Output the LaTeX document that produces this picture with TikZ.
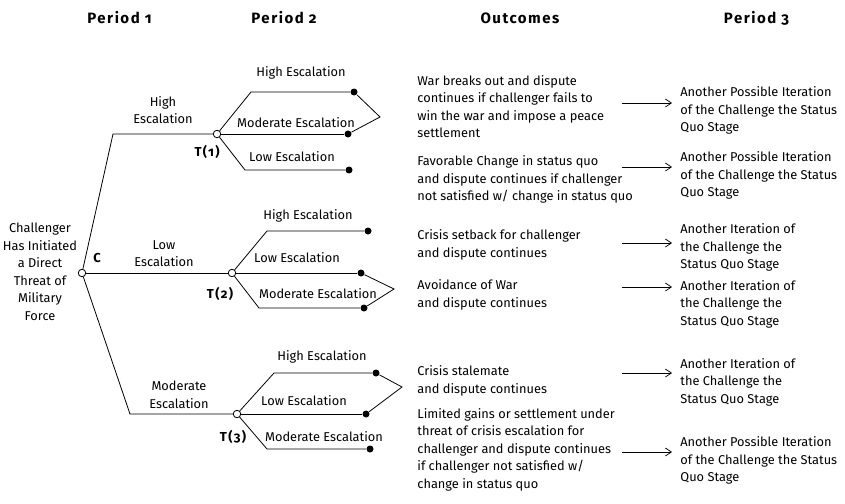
\documentclass[tikz,border=0pt]{standalone}
\usepackage{fontspec}
\setmainfont{Fira Sans}[Numbers=OldStyle]
\newfontfamily\headfont{Fira Sans}[Numbers=OldStyle, LetterSpace=10]
\usetikzlibrary{arrows.meta}
\begin{document}
\begin{tikzpicture}[x=1pt, y=-1pt, line width=0.8pt,
    font=\fontsize{12.8}{17.5}\selectfont,
    open/.style={circle, draw, fill=white, inner sep=0pt, minimum size=7.5pt},
    dot/.style={circle, fill, inner sep=0pt, minimum size=7pt},
    lbl/.style={inner sep=0pt},
    tag/.style={inner sep=0pt, font=\headfont\bfseries\fontsize{13}{15}\selectfont},
    txt/.style={inner sep=0pt, align=left, anchor=west},
    hd/.style={inner sep=0pt, font=\headfont\bfseries\fontsize{15}{17}\selectfont},
    arr/.style={-{Straight Barb[length=6pt, width=8pt]}, line width=0.7pt}]
  \useasboundingbox (0,0) rectangle (845,503);

  % headings
  \node[hd] (p1) at (119.5,18) {Period 1};
  \node[hd] (p2) at (284,18) {Period 2};
  \node[hd] (oc) at (520,18) {Outcomes};
  \node[hd] (p3) at (756.5,18) {Period 3};

  % period 1
  \node[lbl, align=center] (root) at (40,272) {Challenger\\Has Initiated\\a Direct\\Threat of\\Military\\Force};
  \node[open] (c) at (82,273) {};
  \node[tag] (cl) at (97,258) {C};
  \coordinate (cu) at (113,134);
  \coordinate (cd) at (130,414);
  \node[open] (t1) at (217,134) {};
  \node[open] (t2) at (232,273) {};
  \node[open] (t3) at (237,414) {};
  \draw (c) -- (cu) -- (t1);
  \draw (c) -- (t2);
  \draw (c) -- (cd) -- (t3);
  \node[lbl, align=center] (e1) at (163,110) {High\\Escalation};
  \node[lbl, align=center] (e2) at (164,253.5) {Low\\Escalation};
  \node[lbl, align=center] (e3) at (179,395) {Moderate\\Escalation};
  \node[tag] (t1l) at (207,152) {T(1)};
  \node[tag] (t2l) at (220,294) {T(2)};
  \node[tag] (t3l) at (233,437) {T(3)};

  % period 2, T(1)
  \coordinate (u1) at (251,92);
  \coordinate (w1) at (245,170);
  \coordinate (k1) at (380,117);
  \node[dot] (d1a) at (354,92) {};
  \node[dot] (d1b) at (348,134) {};
  \node[dot] (d1c) at (349,170) {};
  \draw (t1) -- (u1) -- (d1a);
  \draw (t1) -- (d1b);
  \draw (t1) -- (w1) -- (d1c);
  \draw (d1a) -- (k1) -- (d1b);
  \node[lbl] (s1a) at (301,73) {High Escalation};
  \node[lbl] (s1b) at (296,123) {Moderate Escalation};
  \node[lbl] (s1c) at (292,157) {Low Escalation};

  % period 2, T(2)
  \coordinate (u2) at (267,231);
  \coordinate (w2) at (259,308);
  \coordinate (k2) at (394,289);
  \node[dot] (d2a) at (368,231) {};
  \node[dot] (d2b) at (361,273) {};
  \node[dot] (d2c) at (364,308) {};
  \draw (t2) -- (u2) -- (d2a);
  \draw (t2) -- (d2b);
  \draw (t2) -- (w2) -- (d2c);
  \draw (d2b) -- (k2) -- (d2c);
  \node[lbl] (s2a) at (308,216) {High Escalation};
  \node[lbl] (s2b) at (297,258) {Low Escalation};
  \node[lbl] (s2c) at (318,294) {Moderate Escalation};

  % period 2, T(3)
  \coordinate (u3) at (274,373);
  \coordinate (w3) at (267,449);
  \coordinate (k3) at (402,387);
  \node[dot] (d3a) at (376,373) {};
  \node[dot] (d3b) at (366,414) {};
  \node[dot] (d3c) at (370,449) {};
  \draw (t3) -- (u3) -- (d3a);
  \draw (t3) -- (d3b);
  \draw (t3) -- (w3) -- (d3c);
  \draw (d3a) -- (k3) -- (d3b);
  \node[lbl] (s3a) at (322,357) {High Escalation};
  \node[lbl] (s3b) at (304,401) {Low Escalation};
  \node[lbl] (s3c) at (324,437) {Moderate Escalation};

  % outcomes
  \node[txt] (o1) at (417,106.5) {War breaks out and dispute\\continues if challenger fails to\\win the war and impose a peace\\settlement};
  \node[txt] (o2) at (417,179.5) {Favorable Change in status quo\\and dispute continues if challenger\\not satisfied w/ change in status quo};
  \node[txt] (o3) at (417,245) {Crisis setback for challenger\\and dispute continues};
  \node[txt] (o4) at (417,295) {Avoidance of War\\and dispute continues};
  \node[txt] (o5) at (417,381) {Crisis stalemate\\and dispute continues};
  \node[txt] (o6) at (417,449.5) {Limited gains or settlement under\\threat of crisis escalation for\\challenger and dispute continues\\if challenger not satisfied w/\\change in status quo};

  % period 3
  \node[txt] (g1) at (680,110.5) {Another Possible Iteration\\of the Challenge the Status\\Quo Stage};
  \node[txt] (g2) at (680,175.5) {Another Possible Iteration\\of the Challenge the Status\\Quo Stage};
  \node[txt] (g3) at (680,247.5) {Another Iteration of\\the Challenge the\\Status Quo Stage};
  \node[txt] (g4) at (680,304) {Another Iteration of\\the Challenge the\\Status Quo Stage};
  \node[txt] (g5) at (680,382) {Another Iteration of\\the Challenge the\\Status Quo Stage};
  \node[txt] (g6) at (680,460.5) {Another Possible Iteration\\of the Challenge the Status\\Quo Stage};

  \coordinate (a1) at (622,103);
  \coordinate (a2) at (622,167);
  \coordinate (a3) at (622,243);
  \coordinate (a4) at (622,287);
  \coordinate (a5) at (622,373);
  \coordinate (a6) at (622,452);
  \draw[arr] (a1) -- ([xshift=-8pt]a1 -| g1.west);
  \draw[arr] (a2) -- ([xshift=-8pt]a2 -| g2.west);
  \draw[arr] (a3) -- ([xshift=-8pt]a3 -| g3.west);
  \draw[arr] (a4) -- ([xshift=-8pt]a4 -| g4.west);
  \draw[arr] (a5) -- ([xshift=-8pt]a5 -| g5.west);
  \draw[arr] (a6) -- ([xshift=-8pt]a6 -| g6.west);
\end{tikzpicture}
\end{document}
